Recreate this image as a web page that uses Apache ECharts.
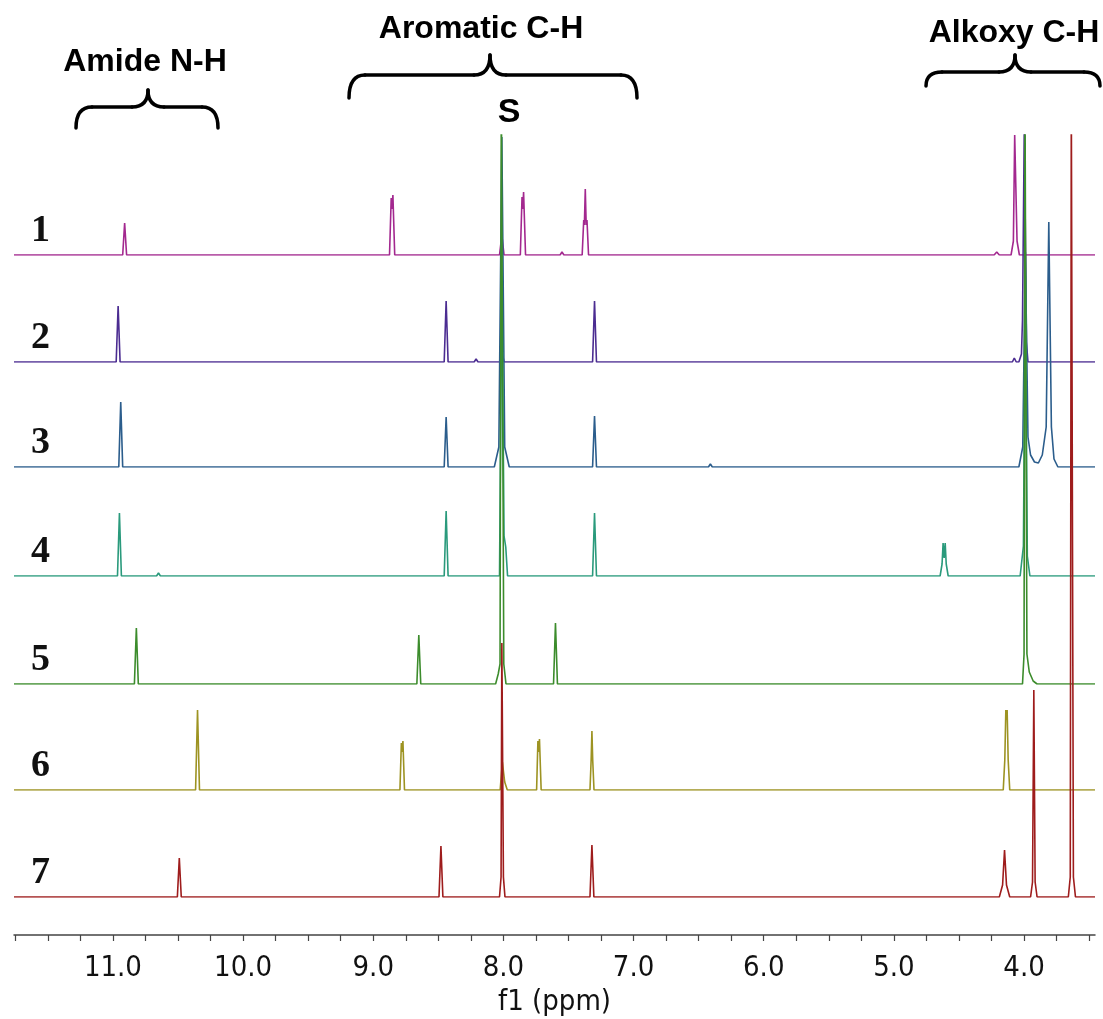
<!DOCTYPE html>
<html>
<head>
<meta charset="utf-8">
<title>1H NMR stack</title>
<script src="https://cdn.jsdelivr.net/npm/echarts@6/dist/echarts.min.js"></script>
<style>
  html, body { margin: 0; padding: 0; background: #fff; }
  #chart { width: 1103px; height: 1019px; }
</style>
</head>
<body>
<div id="chart"></div>
<script>
// chemical shift axis (ppm)
const ppmRange = [3.455, 11.76];
const tickValues = [3.5, 3.75, 4, 4.25, 4.5, 4.75, 5, 5.25, 5.5, 5.75, 6, 6.25, 6.5, 6.75,
  7, 7.25, 7.5, 7.75, 8, 8.25, 8.5, 8.75, 9, 9.25, 9.5, 9.75, 10, 10.25, 10.5, 10.75,
  11, 11.25, 11.5, 11.75];
const tickLabels = [4, 5, 6, 7, 8, 9, 10, 11];

const sampleNames = ['1', '2', '3', '4', '5', '6', '7'];

// each trace: [ppm, intensity] vertices
const spec1 = [[11.76, 0],
  [10.925, 0], [10.91, 32], [10.895, 0],
  [8.875, 0], [8.862, 57], [8.856, 46], [8.849, 60], [8.835, 0],
  [8.03, 0], [8.012, 20], [7.995, 0],
  [7.87, 0], [7.857, 58], [7.851, 46], [7.845, 63], [7.83, 0],
  [7.565, 0], [7.55, 3], [7.535, 0],
  [7.395, 0], [7.383, 35], [7.378, 30], [7.371, 66], [7.364, 30], [7.358, 35], [7.346, 0],
  [4.23, 0], [4.21, 3], [4.19, 0],
  [4.10, 0], [4.082, 14], [4.072, 120], [4.064, 120], [4.054, 14], [4.036, 0],
  [3.935, 0], [3.92, 2], [3.905, 0],
  [3.455, 0]];
const spec2 = [[11.76, 0],
  [10.975, 0], [10.96, 56], [10.945, 0],
  [8.455, 0], [8.44, 61], [8.425, 0],
  [8.225, 0], [8.21, 3], [8.195, 0],
  [8.025, 0], [8.01, 9], [7.995, 0],
  [7.315, 0], [7.30, 61], [7.285, 0],
  [4.09, 0], [4.075, 4], [4.06, 0],
  [4.04, 0], [4.02, 8], [4.012, 42], [3.998, 240], [3.99, 240], [3.982, 20], [3.97, 0],
  [3.455, 0]];
const spec3 = [[11.76, 0],
  [10.955, 0], [10.94, 65], [10.925, 0],
  [8.455, 0], [8.44, 50], [8.425, 0],
  [8.07, 0], [8.035, 20], [8.012, 330], [7.99, 20], [7.955, 0],
  [7.315, 0], [7.30, 51], [7.285, 0],
  [6.425, 0], [6.41, 3], [6.395, 0],
  [4.04, 0], [4.01, 20], [3.99, 215], [3.97, 30], [3.95, 12], [3.92, 5], [3.89, 4],
  [3.86, 12], [3.83, 40], [3.81, 245], [3.79, 40], [3.77, 8], [3.74, 0],
  [3.455, 0]];
const spec4 = [[11.76, 0],
  [10.965, 0], [10.95, 63], [10.935, 0],
  [10.665, 0], [10.65, 3], [10.635, 0],
  [8.455, 0], [8.44, 65], [8.425, 0],
  [8.03, 0], [8.012, 300], [7.995, 40], [7.982, 29], [7.968, 0],
  [7.315, 0], [7.30, 63], [7.285, 0],
  [4.645, 0], [4.63, 12], [4.622, 33], [4.614, 18], [4.606, 33], [4.598, 12], [4.583, 0],
  [4.03, 0], [4.005, 30], [3.99, 300], [3.975, 20], [3.955, 0],
  [3.455, 0]];
const spec5 = [[11.76, 0],
  [10.835, 0], [10.82, 56], [10.805, 0],
  [8.665, 0], [8.65, 49], [8.635, 0],
  [8.06, 0], [8.04, 10], [8.026, 20], [8.016, 600], [8.007, 600], [7.997, 20], [7.98, 0],
  [7.615, 0], [7.60, 61], [7.585, 0],
  [4.012, 0], [4.0, 30], [3.993, 600], [3.985, 600], [3.978, 30], [3.96, 12], [3.93, 3], [3.90, 0],
  [3.455, 0]];
const spec6 = [[11.76, 0],
  [10.365, 0], [10.35, 80], [10.335, 0],
  [8.795, 0], [8.784, 47], [8.778, 38], [8.772, 49], [8.76, 0],
  [8.025, 0], [8.008, 28], [7.99, 8], [7.97, 0],
  [7.745, 0], [7.735, 49], [7.729, 38], [7.723, 51], [7.71, 0],
  [7.335, 0], [7.326, 30], [7.32, 59], [7.314, 30], [7.304, 0],
  [4.16, 0], [4.148, 30], [4.14, 80], [4.135, 70], [4.13, 80], [4.122, 30], [4.11, 0],
  [3.455, 0]];
const spec7 = [[11.76, 0],
  [10.505, 0], [10.49, 39], [10.475, 0],
  [8.495, 0], [8.48, 51], [8.465, 0],
  [8.03, 0], [8.018, 20], [8.012, 254], [8.006, 254], [8.0, 20], [7.988, 0],
  [7.335, 0], [7.32, 52], [7.305, 0],
  [4.19, 0], [4.165, 12], [4.15, 47], [4.135, 12], [4.11, 0],
  [3.95, 0], [3.935, 15], [3.925, 207], [3.915, 15], [3.90, 0],
  [3.66, 0], [3.645, 20], [3.637, 800], [3.629, 800], [3.621, 20], [3.605, 0],
  [3.455, 0]];

const spectra = [spec1, spec2, spec3, spec4, spec5, spec6, spec7];

// look and layout
const colors = ['#a3288f', '#4b2c91', '#2b5d8c', '#2a9a7c', '#3c8c2c', '#9d9322', '#9e1c1c'];
const W = 1103, H = 1019;
const plotTop = 135, plotLeft = 14, plotRight = 8;
const baselines = [255, 362, 467, 576, 684, 790, 897];
const axisY = 935;

const grids = [], xAxes = [], yAxes = [], series = [];
spectra.forEach((data, i) => {
  grids.push({left: plotLeft, right: plotRight, top: plotTop, bottom: H - baselines[i], outerBoundsMode: 'none'});
  xAxes.push({type: 'value', gridIndex: i, min: ppmRange[0], max: ppmRange[1], inverse: true, show: false});
  // 1 intensity unit = 1 px, so the grid top clips tall lines like the original
  yAxes.push({type: 'value', gridIndex: i, min: 0, max: baselines[i] - plotTop, show: false});
  series.push({
    name: sampleNames[i], type: 'line', xAxisIndex: i, yAxisIndex: i,
    data: data, showSymbol: false, clip: true, silent: true,
    lineStyle: {color: colors[i], width: 1.6}
  });
});

// bottom ppm scale
grids.push({left: plotLeft, right: plotRight, top: axisY - 1, height: 1, outerBoundsMode: 'none'});
xAxes.push({
  type: 'value', gridIndex: 7, min: ppmRange[0], max: ppmRange[1], inverse: true,
  position: 'bottom',
  axisLine: {show: true, onZero: false, lineStyle: {color: '#444', width: 1.5}},
  axisTick: {show: true, customValues: tickValues, length: 6, lineStyle: {color: '#444', width: 1.2}},
  axisLabel: {
    customValues: tickLabels, margin: 19, color: '#111', fontSize: 29,
    fontFamily: '"DejaVu Sans Condensed", "DejaVu Sans", sans-serif',
    formatter: v => v.toFixed(1)
  },
  splitLine: {show: false},
  name: 'f1 (ppm)', nameLocation: 'middle', nameGap: 53,
  nameTextStyle: {color: '#111', fontSize: 29, fontFamily: '"DejaVu Sans Condensed", "DejaVu Sans", sans-serif'}
});
yAxes.push({type: 'value', gridIndex: 7, show: false});

// curly brace drawn from line + quadratic pieces
function brace(x1, x2, xc, yTip, yArm, yEnd) {
  const r = 16;
  const st = {stroke: '#000', lineWidth: 3.5, fill: null, lineCap: 'round'};
  const q = (a, b, c, d, e, f) => ({type: 'bezierCurve', shape: {x1: a, y1: b, cpx1: c, cpy1: d, x2: e, y2: f}, style: st});
  const l = (a, b, c, d) => ({type: 'line', shape: {x1: a, y1: b, x2: c, y2: d}, style: st});
  return {
    type: 'group', children: [
      q(x1, yEnd, x1, yArm, x1 + r, yArm),
      l(x1 + r, yArm, xc - r, yArm),
      q(xc - r, yArm, xc, yArm, xc, yTip),
      q(xc, yTip, xc, yArm, xc + r, yArm),
      l(xc + r, yArm, x2 - r, yArm),
      q(x2 - r, yArm, x2, yArm, x2, yEnd)
    ]
  };
}

const headFont = 'bold 32px "Liberation Sans", Arial, sans-serif';
const graphics = [
  {type: 'text', x: 145, y: 62, style: {text: 'Amide N-H', font: headFont, fill: '#000', align: 'center', verticalAlign: 'middle'}},
  {type: 'text', x: 481, y: 29, style: {text: 'Aromatic C-H', font: headFont, fill: '#000', align: 'center', verticalAlign: 'middle'}},
  {type: 'text', x: 1014, y: 33, style: {text: 'Alkoxy C-H', font: headFont, fill: '#000', align: 'center', verticalAlign: 'middle'}},
  {type: 'text', x: 509, y: 113, style: {text: 'S', font: 'bold 34px "Liberation Sans", Arial, sans-serif', fill: '#000', align: 'center', verticalAlign: 'middle'}},
  brace(76, 218, 148, 90, 107, 128),
  brace(349, 637, 490, 55, 75, 98),
  brace(926, 1100, 1015, 55, 72, 86)
];
sampleNames.forEach((s, i) => {
  graphics.push({
    type: 'text', x: 31, y: baselines[i] - 24,
    style: {text: s, font: 'bold 38px "Liberation Serif", "Times New Roman", serif', fill: '#111', align: 'left', verticalAlign: 'middle'}
  });
});

const chart = echarts.init(document.getElementById('chart'), null, {renderer: 'canvas'});
chart.setOption({
  backgroundColor: '#fff',
  animation: false,
  grid: grids,
  xAxis: xAxes,
  yAxis: yAxes,
  series: series,
  graphic: graphics
});
</script>
</body>
</html>
